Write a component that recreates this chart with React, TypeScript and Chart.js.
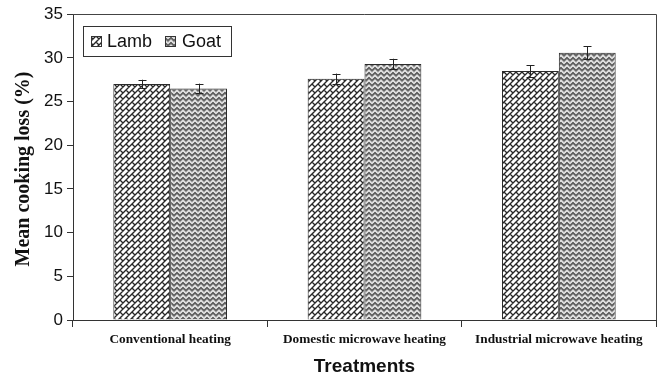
import React, { useEffect, useRef } from "react";
import { Chart, registerables } from "chart.js";

Chart.register(...registerables);

const categories = ["Conventional heating", "Domestic microwave heating", "Industrial microwave heating"];
const lambValues = [27.0, 27.6, 28.5];
const lambErrors = [0.5, 0.6, 0.65];
const goatValues = [26.5, 29.3, 30.6];
const goatErrors = [0.55, 0.6, 0.75];
const seriesNames = ["Lamb", "Goat"];
const yTitle = "Mean cooking loss (%)";
const xTitle = "Treatments";
const yTicksMax = 35;
const yStep = 5;

function makeLambPattern(): CanvasPattern | string {
  const S = 12;
  const c = document.createElement("canvas");
  c.width = S;
  c.height = S;
  const g = c.getContext("2d");
  if (!g) return "#fff";
  g.fillStyle = "#ffffff";
  g.fillRect(0, 0, S, S);
  g.strokeStyle = "#262626";
  g.lineWidth = 1.35;
  g.beginPath();
  for (let cc = -12; cc <= 36; cc += 6) {
    g.moveTo(-4, cc + 4);
    g.lineTo(cc + 4, -4);
  }
  for (let cc = -12; cc <= 36; cc += 6) {
    const off = ((cc / 6) % 2 + 2) % 2 === 0 ? 0 : 6;
    for (let t = -48 + off; t <= 48; t += 12) {
      g.moveTo((cc + t) / 2, (cc - t) / 2);
      g.lineTo((cc + 6 + t) / 2, (cc + 6 - t) / 2);
    }
  }
  g.stroke();
  return g.createPattern(c, "repeat") || "#fff";
}

function makeGoatPattern(): CanvasPattern | string {
  const W = 6;
  const H = 5;
  const c = document.createElement("canvas");
  c.width = W;
  c.height = H;
  const g = c.getContext("2d");
  if (!g) return "#999";
  g.fillStyle = "#9a9a9a";
  g.fillRect(0, 0, W, H);
  g.lineWidth = 1.2;
  for (const dy of [-H, 0, H]) {
    g.strokeStyle = "#f2f2f2";
    g.beginPath();
    g.moveTo(0, 3.5 + dy);
    g.lineTo(3, 0.5 + dy);
    g.lineTo(6, 3.5 + dy);
    g.stroke();
    g.strokeStyle = "#555555";
    g.beginPath();
    g.moveTo(0, 5.5 + dy);
    g.lineTo(3, 2.5 + dy);
    g.lineTo(6, 5.5 + dy);
    g.stroke();
  }
  return g.createPattern(c, "repeat") || "#999";
}

export default function App() {
  const ref = useRef<HTMLCanvasElement | null>(null);

  useEffect(() => {
    document.body.style.margin = "0";
    const canvas = ref.current;
    if (!canvas) return;
    const lambPat = makeLambPattern();
    const goatPat = makeGoatPattern();
    const errors = [lambErrors, goatErrors];
    const fills = [lambPat, goatPat];

    const extras = {
      id: "extras",
      afterDatasetsDraw(chart: any) {
        const ctx = chart.ctx as CanvasRenderingContext2D;
        const ya = chart.scales.y;
        const area = chart.chartArea;
        ctx.save();
        // error bars
        ctx.strokeStyle = "#222";
        ctx.lineWidth = 1;
        chart.data.datasets.forEach((ds: any, i: number) => {
          const meta = chart.getDatasetMeta(i);
          meta.data.forEach((el: any, j: number) => {
            const v = ds.data[j];
            const e = errors[i][j];
            const x = Math.round(el.x) + 0.5;
            const yTop = ya.getPixelForValue(v + e);
            const yBot = ya.getPixelForValue(v - e);
            ctx.beginPath();
            ctx.moveTo(x, yTop);
            ctx.lineTo(x, yBot);
            ctx.moveTo(x - 4, Math.round(yTop) + 0.5);
            ctx.lineTo(x + 4, Math.round(yTop) + 0.5);
            ctx.moveTo(x - 4, Math.round(yBot) + 0.5);
            ctx.lineTo(x + 4, Math.round(yBot) + 0.5);
            ctx.stroke();
          });
        });
        // frame top and right
        ctx.strokeStyle = "#444";
        ctx.beginPath();
        ctx.moveTo(area.left, Math.round(area.top) + 0.5);
        ctx.lineTo(Math.round(area.right) + 0.5, Math.round(area.top) + 0.5);
        ctx.lineTo(Math.round(area.right) + 0.5, area.bottom);
        ctx.stroke();
        // legend box
        const lx = 83, ly = 26, lw = 148, lh = 30;
        ctx.fillStyle = "#fff";
        ctx.fillRect(lx, ly, lw, lh);
        ctx.strokeStyle = "#333";
        ctx.strokeRect(lx + 0.5, ly + 0.5, lw, lh);
        const items = [
          { x: 91, tx: 107 },
          { x: 165, tx: 182 },
        ];
        ctx.font = "18px 'Liberation Sans', Arial, sans-serif";
        ctx.textBaseline = "middle";
        items.forEach((it, i) => {
          ctx.fillStyle = fills[i] as any;
          ctx.fillRect(it.x, 36, 10, 10);
          ctx.strokeStyle = "#333";
          ctx.strokeRect(it.x + 0.5, 36.5, 10, 10);
          ctx.fillStyle = "#111";
          ctx.fillText(seriesNames[i], it.tx, 42);
        });
        // y axis title
        ctx.translate(24, 169);
        ctx.rotate(-Math.PI / 2);
        ctx.font = "bold 20px 'Liberation Serif', 'Times New Roman', serif";
        ctx.textAlign = "center";
        ctx.textBaseline = "middle";
        ctx.fillStyle = "#111";
        ctx.fillText(yTitle, 0, 0);
        ctx.restore();
      },
    };

    const chart = new Chart(canvas, {
      type: "bar",
      data: {
        labels: categories,
        datasets: [
          {
            label: seriesNames[0],
            data: lambValues,
            backgroundColor: lambPat as any,
            borderColor: "#2a2a2a",
            borderWidth: 1,
            categoryPercentage: 0.585,
            barPercentage: 1,
          },
          {
            label: seriesNames[1],
            data: goatValues,
            backgroundColor: goatPat as any,
            borderColor: "#2a2a2a",
            borderWidth: 1,
            categoryPercentage: 0.585,
            barPercentage: 1,
          },
        ],
      },
      options: {
        animation: false,
        responsive: false,
        maintainAspectRatio: false,
        layout: { padding: { top: 13, right: 4, left: 0, bottom: 0 } },
        plugins: { legend: { display: false }, tooltip: { enabled: false } },
        scales: {
          x: {
            grid: { offset: true, drawOnChartArea: false, tickLength: 7, color: "#333" },
            border: { color: "#333", width: 1 },
            ticks: {
              color: "#111",
              font: { family: "'Liberation Serif', 'Times New Roman', serif", size: 13.3, weight: "bold" },
              padding: 5,
              maxRotation: 0,
              autoSkip: false,
            },
            title: {
              display: true,
              text: xTitle,
              color: "#111",
              font: { family: "'Liberation Sans', Arial, sans-serif", size: 19, weight: "bold" },
              padding: { top: 4, bottom: 0 },
            },
            afterFit: (s: any) => {
              s.height = 58;
            },
          },
          y: {
            min: 0,
            max: yTicksMax,
            grid: { drawOnChartArea: false, tickLength: 6, color: "#333" },
            border: { color: "#333", width: 1 },
            ticks: {
              stepSize: yStep,
              color: "#111",
              font: { family: "'Liberation Sans', Arial, sans-serif", size: 17 },
              padding: 4,
            },
            afterFit: (s: any) => {
              s.width = 73;
            },
          },
        },
      },
      plugins: [extras],
    });
    return () => chart.destroy();
  }, []);

  return (
    <div style={{ width: 660, height: 378 }}>
      <canvas ref={ref} width={660} height={378} style={{ display: "block" }} />
    </div>
  );
}
